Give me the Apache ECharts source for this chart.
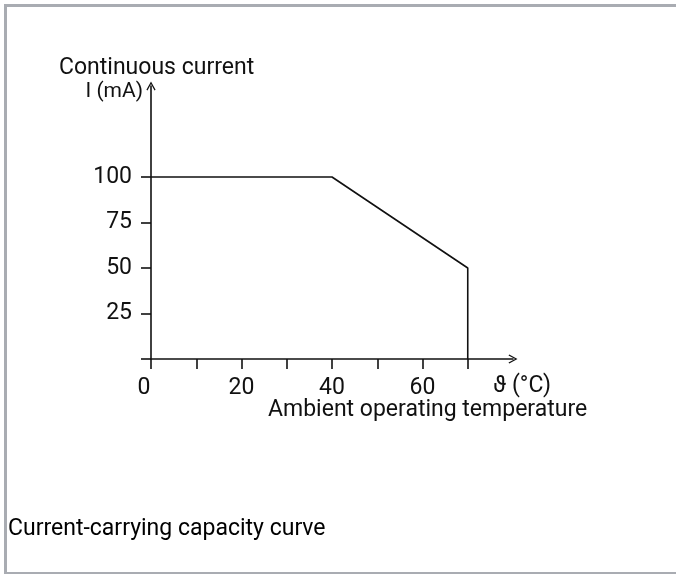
<!DOCTYPE html>
<html>
<head>
<meta charset="utf-8">
<script src="https://cdn.jsdelivr.net/npm/echarts@6/dist/echarts.min.js"></script>
<style>
  html, body { margin: 0; padding: 0; background: #fff; }
  #frame {
    position: absolute; left: 4px; top: 4px; right: 0; bottom: 1px;
    border-top: 3px solid #a9acb2; border-left: 3px solid #a9acb2; border-bottom: 2px solid #a9acb2;
  }
  #chart { position: absolute; left: 0; top: 0; width: 676px; height: 575px; }
</style>
</head>
<body>
<div id="frame"></div>
<div id="chart"></div>
<script>
// derating curve: temperature (°C) -> continuous current (mA)
var temps = [0, 40, 70, 70];
var currents = [100, 100, 50, 0];

var xTicks = [0, 10, 20, 30, 40, 50, 60, 70];
var xLabels = [0, 20, 40, 60];
var yTicks = [0, 25, 50, 75, 100];
var yLabels = [25, 50, 75, 100];

var font = "Roboto";
var ink = "#111";
// open chevron arrow for axis ends
var arrow = "path://M5,0 L10,9 L8.8,9.8 L5,2.6 L1.2,9.8 L0,9 Z";

var chart = echarts.init(document.getElementById("chart"));

chart.setOption({
  animation: false,
  title: [
    {
      text: "Continuous current",
      left: 59, top: 57, padding: 0,
      textStyle: { fontFamily: font, fontSize: 23, fontWeight: "normal", color: ink }
    },
    {
      text: "Ambient operating temperature",
      left: 268, top: 399, padding: 0,
      textStyle: { fontFamily: font, fontSize: 23, fontWeight: "normal", color: ink }
    },
    {
      text: "Current-carrying capacity curve",
      left: 8, top: 518, padding: 0,
      textStyle: { fontFamily: font, fontSize: 23, fontWeight: "normal", color: "#000" }
    }
  ],
  grid: { left: 151, right: 163, top: 86, bottom: 216 },
  xAxis: {
    type: "value",
    min: 0,
    max: 80,
    name: "ϑ (°C)",
    nameLocation: "end",
    nameGap: 9,
    nameTextStyle: {
      fontFamily: font, fontSize: 23, color: ink,
      align: "center", verticalAlign: "top", padding: [16, 0, 0, 0]
    },
    splitLine: { show: false },
    axisLine: {
      lineStyle: { color: ink, width: 1.6 },
      symbol: ["none", arrow],
      symbolSize: [10, 9]
    },
    axisTick: { customValues: xTicks, length: 10, lineStyle: { color: ink, width: 1.6 } },
    axisLabel: {
      customValues: xLabels,
      margin: 18,
      fontFamily: font, fontSize: 23, color: ink,
      formatter: function (v) { return v === 0 ? "{z|0}" : String(v); },
      rich: { z: { fontFamily: font, fontSize: 23, color: ink, padding: [0, 14, 0, 0] } }
    }
  },
  yAxis: {
    type: "value",
    min: 0,
    max: 150,
    name: "I (mA)",
    nameLocation: "end",
    nameGap: -6,
    nameTextStyle: {
      fontFamily: font, fontSize: 21, color: ink,
      align: "right", verticalAlign: "middle", padding: [0, 8, 0, 0]
    },
    splitLine: { show: false },
    axisLine: {
      show: true,
      lineStyle: { color: ink, width: 1.6 },
      symbol: ["none", arrow],
      symbolSize: [10, 9]
    },
    axisTick: { show: true, customValues: yTicks, length: 10, lineStyle: { color: ink, width: 1.6 } },
    axisLabel: {
      customValues: yLabels,
      margin: 19,
      fontFamily: font, fontSize: 23, color: ink
    }
  },
  series: [
    {
      type: "line",
      data: temps.map(function (t, i) { return [t, currents[i]]; }),
      showSymbol: false,
      symbol: "none",
      lineStyle: { color: ink, width: 1.6 },
      z: 1
    }
  ]
});
</script>
</body>
</html>
